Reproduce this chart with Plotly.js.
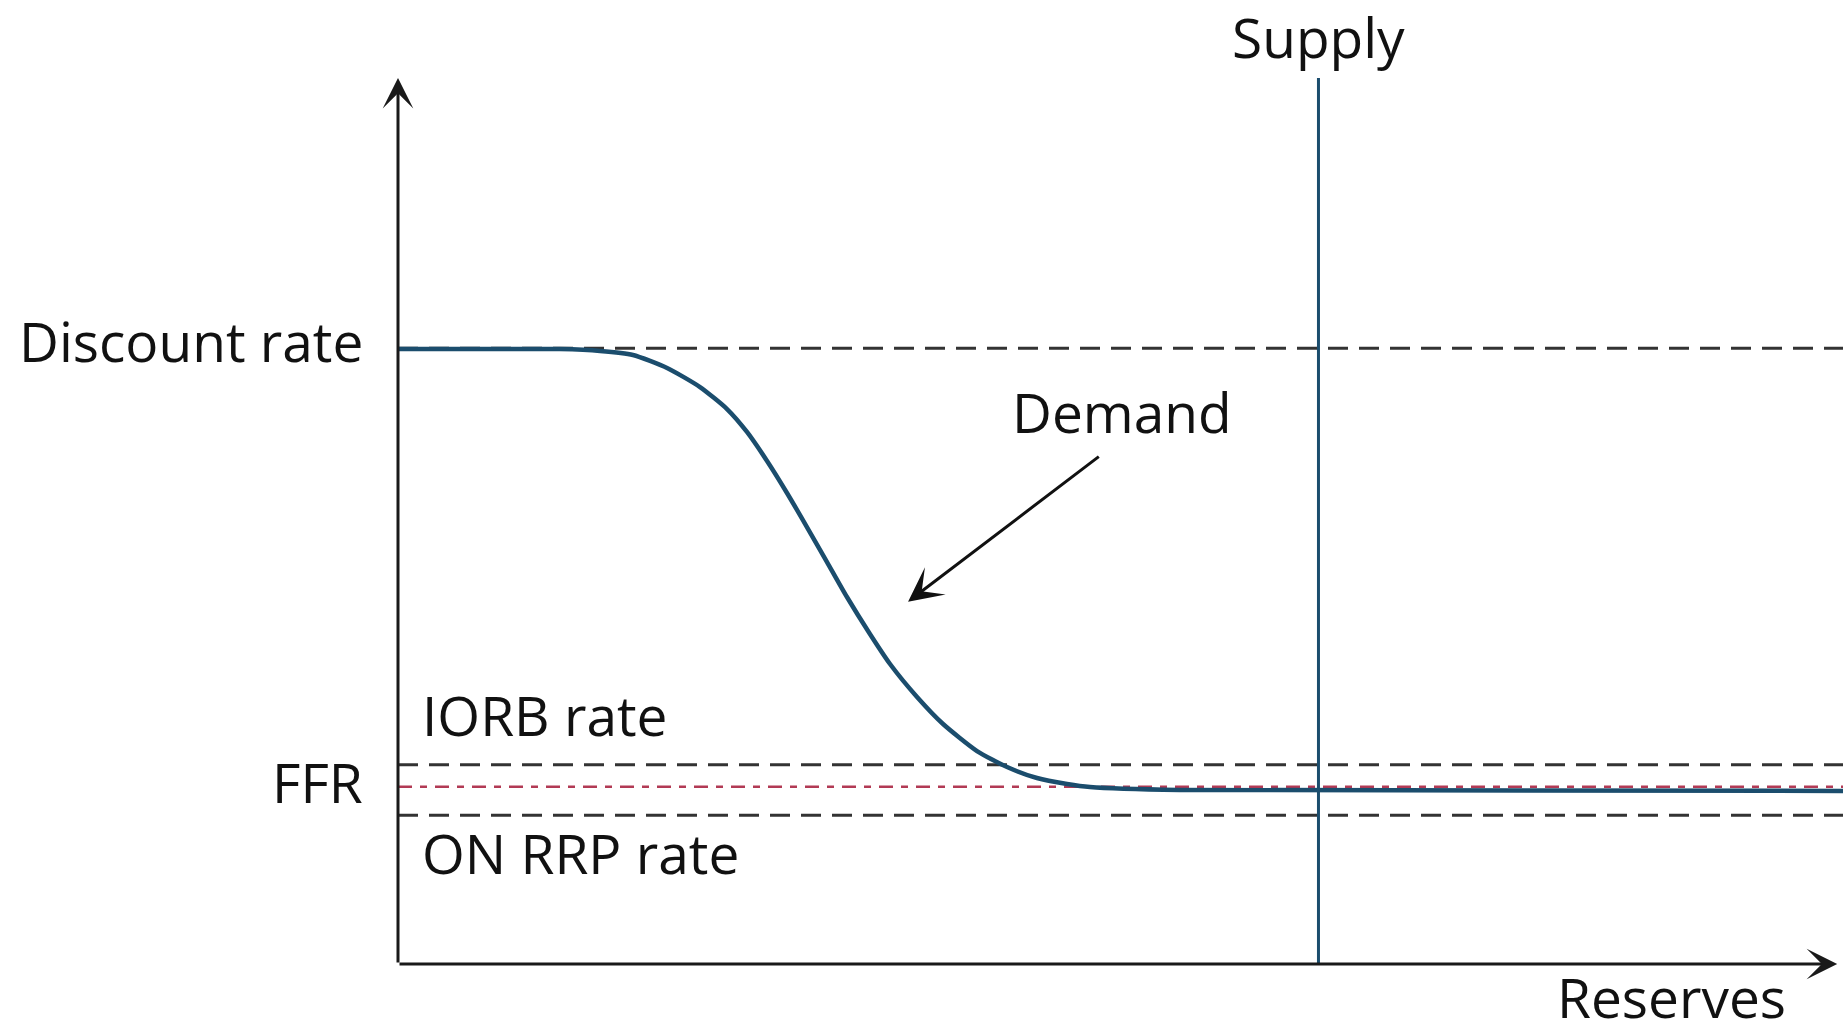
<!DOCTYPE html>
<html>
<head>
<meta charset="utf-8">
<script src="https://cdn.plot.ly/plotly-3.0.1.min.js"></script>
<style>
  html, body { margin: 0; padding: 0; background: #ffffff; }
  #chart { width: 1843px; height: 1035px; }
</style>
</head>
<body>
<div id="chart"></div>
<script>
// ---- Data (abstract units: reserves 0..100, rate 0..10) ----
const demandX = [0, 11.2, 13.98, 16.26, 18.62, 20.90, 22.77, 24.15, 25.54, 26.92, 28.30, 29.69, 31.07, 32.66, 34.05, 35.92, 37.72, 40.07, 42.15, 44.22, 46.30, 47.89, 54.1, 100];
const demandY = [6.94, 6.94, 6.92, 6.874, 6.727, 6.512, 6.264, 6.005, 5.677, 5.316, 4.932, 4.537, 4.142, 3.725, 3.386, 3.014, 2.709, 2.404, 2.223, 2.099, 2.032, 1.998, 1.964, 1.953];
const supplyX = [63.7, 63.7];
const supplyY = [0, 10];
const rateNames = ['Discount rate', 'IORB rate', 'FFR', 'ON RRP rate'];
const rateValues = [6.95, 2.25, 2.0, 1.68];
const axisNames = ['Reserves', 'Supply', 'Demand'];
const xRange = [0, 100];
const yRange = [0, 10];

const FONT = '"Open Sans", "Noto Sans", sans-serif';
const BLUE = '#1b4d6d';
const FS = 55;

const traces = [];
// Rate lines (dashed)
rateNames.forEach((name, i) => {
  const isFFR = name === 'FFR';
  traces.push({
    x: xRange, y: [rateValues[i], rateValues[i]],
    mode: 'lines', hoverinfo: 'skip', showlegend: false,
    line: isFFR ? {color: '#b23a55', width: 2.5, dash: '14px,8px,7px,8px'}
                : {color: '#333333', width: 3, dash: '20px,11px'}
  });
});
// Supply
traces.push({x: supplyX, y: supplyY, mode: 'lines', hoverinfo: 'skip', showlegend: false,
  line: {color: BLUE, width: 3}});
// Demand
traces.push({x: demandX, y: demandY, mode: 'lines', hoverinfo: 'skip', showlegend: false,
  line: {color: BLUE, width: 4.5, shape: 'spline', smoothing: 0.6}});

function label(text, x, y, xanchor, extra) {
  return Object.assign({text: text, x: x, y: y, xref: 'x', yref: 'y', showarrow: false,
    xanchor: xanchor, yanchor: 'middle', yshift: 3, borderpad: 0,
    font: {family: FONT, size: FS, color: '#111'}}, extra || {});
}

const annotations = [
  // axes with arrowheads
  {x: 0, y: yRange[1], ax: 0, ay: 0, xref: 'x', yref: 'y', axref: 'x', ayref: 'y', text: '',
   showarrow: true, arrowhead: 3, arrowsize: 1.7, arrowwidth: 3, arrowcolor: '#1a1a1a'},
  {x: 99.6, y: 0, ax: 0, ay: 0, xref: 'x', yref: 'y', axref: 'x', ayref: 'y', text: '',
   showarrow: true, arrowhead: 3, arrowsize: 1.7, arrowwidth: 3, arrowcolor: '#1a1a1a'},
  // demand pointer
  {x: 35.3, y: 4.09, ax: 48.6, ay: 5.74, xref: 'x', yref: 'y', axref: 'x', ayref: 'y', text: '',
   showarrow: true, arrowhead: 3, arrowsize: 1.9, arrowwidth: 3, arrowcolor: '#111'},
  label(axisNames[1], supplyX[0], yRange[1], 'center', {yshift: 42}),
  label(axisNames[2], 50.1, 6.2, 'center'),
  label(rateNames[0], 0, 7.0, 'right', {xshift: -34}),
  label(rateNames[1], 1.6, 2.78, 'left'),
  label(rateNames[2], 0, 2.03, 'right', {xshift: -34}),
  label(rateNames[3], 1.6, 1.22, 'left'),
  label(axisNames[0], 88.1, 0, 'center', {yshift: -32})
];

const layout = {
  width: 1843, height: 1035,
  margin: {l: 398, r: 0, t: 78, b: 71, pad: 0},
  paper_bgcolor: '#ffffff', plot_bgcolor: '#ffffff',
  showlegend: false,
  xaxis: {range: xRange, visible: false, fixedrange: true},
  yaxis: {range: yRange, visible: false, fixedrange: true},
  annotations: annotations,
  font: {family: FONT}
};

Plotly.newPlot('chart', traces, layout, {staticPlot: true, displayModeBar: false});
</script>
</body>
</html>
